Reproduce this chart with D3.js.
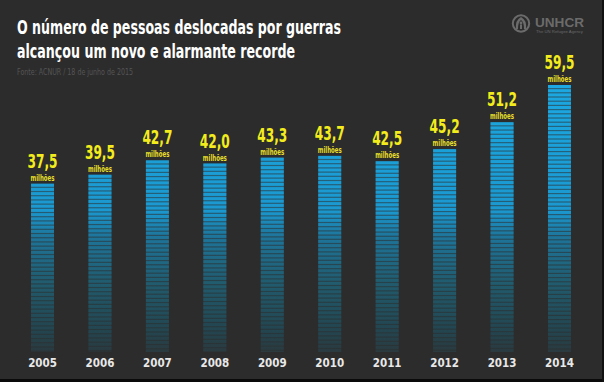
<!DOCTYPE html>
<html><head><meta charset="utf-8">
<script src="https://cdn.jsdelivr.net/npm/d3@7/dist/d3.min.js"></script>
<style>html,body{margin:0;padding:0;background:#2c2c2c;}svg{display:block;}</style>
</head><body>
<script>
const years = ["2005","2006","2007","2008","2009","2010","2011","2012","2013","2014"];
const values = [37.5, 39.5, 42.7, 42.0, 43.3, 43.7, 42.5, 45.2, 51.2, 59.5];
const valueLabels = ["37,5","39,5","42,7","42,0","43,3","43,7","42,5","45,2","51,2","59,5"];
const unitLabel = "milhões";
const titleLines = ["O número de pessoas deslocadas por guerras", "alcançou um novo e alarmante recorde"];
const sourceText = "Fonte: ACNUR / 18 de junho de 2015";

const W = 604, H = 382;
const cond = "'Liberation Sans Narrow','DejaVu Sans Condensed','Arial Narrow',sans-serif";
const svg = d3.select("body").append("svg").attr("width", W).attr("height", H);
svg.append("rect").attr("width", W).attr("height", H).attr("fill", "#2c2c2c");

const x = d3.scaleBand().domain(years).range([13.8, 588.2]).paddingInner(0.6).paddingOuter(0.3);
const y = d3.scaleLinear().domain([0, 59.5]).range([352, 85]);

const defs = svg.append("defs");
const grad = defs.append("linearGradient").attr("id", "bg").attr("gradientUnits", "userSpaceOnUse")
  .attr("x1", 0).attr("x2", 0).attr("y1", 85).attr("y2", 352);
[[0, "#1ca8e2"], [0.47, "#1b98cf"], [0.57, "#1e7499"], [0.75, "#215a6c"], [0.92, "#234550"], [1, "#2a3a3f"]]
  .forEach(([o, c]) => grad.append("stop").attr("offset", o).attr("stop-color", c));

// Title
const tg = svg.append("g").attr("font-family", cond).attr("font-weight", "bold").attr("fill", "#ffffff");
tg.append("text").attr("x", 17).attr("y", 34).attr("font-size", 20.2)
  .attr("textLength", 324).attr("lengthAdjust", "spacingAndGlyphs").text(titleLines[0]);
tg.append("text").attr("x", 17).attr("y", 58).attr("font-size", 20.2)
  .attr("textLength", 278).attr("lengthAdjust", "spacingAndGlyphs").text(titleLines[1]);
svg.append("text").attr("x", 17).attr("y", 75).attr("font-family", cond).attr("font-size", 9)
  .attr("fill", "#555555").attr("textLength", 116).attr("lengthAdjust", "spacingAndGlyphs").text(sourceText);

// Logo
const logo = svg.append("g").attr("fill", "#6b6b6b");
logo.append("circle").attr("cx", 521).attr("cy", 23.5).attr("r", 8.2).attr("fill", "none")
  .attr("stroke", "#6b6b6b").attr("stroke-width", 2);
logo.append("path").attr("d", "M516,29 Q515,20 521,17 Q527,20 526,29 L524,29 Q524,22 521,20 Q518,22 518,29 Z");
logo.append("circle").attr("cx", 521).attr("cy", 23).attr("r", 1.4);
logo.append("rect").attr("x", 520).attr("y", 24.5).attr("width", 2).attr("height", 4.5);
logo.append("text").attr("x", 535).attr("y", 27).attr("font-family", "'Liberation Sans','Arial',sans-serif")
  .attr("font-weight", "bold").attr("font-size", 12.5).attr("textLength", 49).attr("lengthAdjust", "spacingAndGlyphs").text("UNHCR");
logo.append("text").attr("x", 536).attr("y", 32.5).attr("font-family", "'Liberation Sans',sans-serif")
  .attr("font-size", 4.3).attr("textLength", 47).attr("lengthAdjust", "spacingAndGlyphs").text("The UN Refugee Agency");

// Bars
const period = 4.2, stripeH = 3;
const bars = svg.append("g");
years.forEach((yr, i) => {
  const x0 = x(yr), bw = x.bandwidth(), top = y(values[i]), bottom = y(0);
  const g = bars.append("g");
  g.append("rect").attr("x", x0).attr("y", top).attr("width", bw).attr("height", bottom - top)
    .attr("fill", "url(#bg)").attr("opacity", 0.45);
  g.selectAll("rect.s").data(d3.range(top, bottom - 1, period)).join("rect").attr("class", "s")
    .attr("x", x0).attr("y", d => d).attr("width", bw).attr("height", d => Math.min(stripeH, bottom - d))
    .attr("fill", "url(#bg)");
});

// Labels
const lab = svg.append("g").attr("font-family", cond).attr("text-anchor", "middle");
years.forEach((yr, i) => {
  const cx = x(yr) + x.bandwidth() / 2, top = y(values[i]);
  lab.append("text").attr("x", cx).attr("y", top - 16).attr("font-size", 20).attr("font-weight", "bold")
    .attr("fill", "#f3ec1c").attr("textLength", 30).attr("lengthAdjust", "spacingAndGlyphs").text(valueLabels[i]);
  lab.append("text").attr("x", cx).attr("y", top - 3).attr("font-size", 8.5).attr("font-weight", "bold")
    .attr("fill", "#e6df2a").attr("textLength", 24).attr("lengthAdjust", "spacingAndGlyphs").text(unitLabel);
});

// Year axis
const axis = d3.axisBottom(x).tickSize(0).tickPadding(0);
const ax = svg.append("g").attr("transform", "translate(0,359)").call(axis);
ax.select(".domain").remove();
ax.selectAll("text").attr("font-family", cond).attr("font-weight", "bold").attr("font-size", 11.5)
  .attr("fill", "#e8e8e8").attr("dy", "0.71em");

// Frame edges
svg.append("rect").attr("x", 0).attr("y", 379).attr("width", W).attr("height", 3).attr("fill", "#0a0a0a");
svg.append("rect").attr("x", 602).attr("y", 0).attr("width", 2).attr("height", H).attr("fill", "#111111");
</script>
</body></html>
